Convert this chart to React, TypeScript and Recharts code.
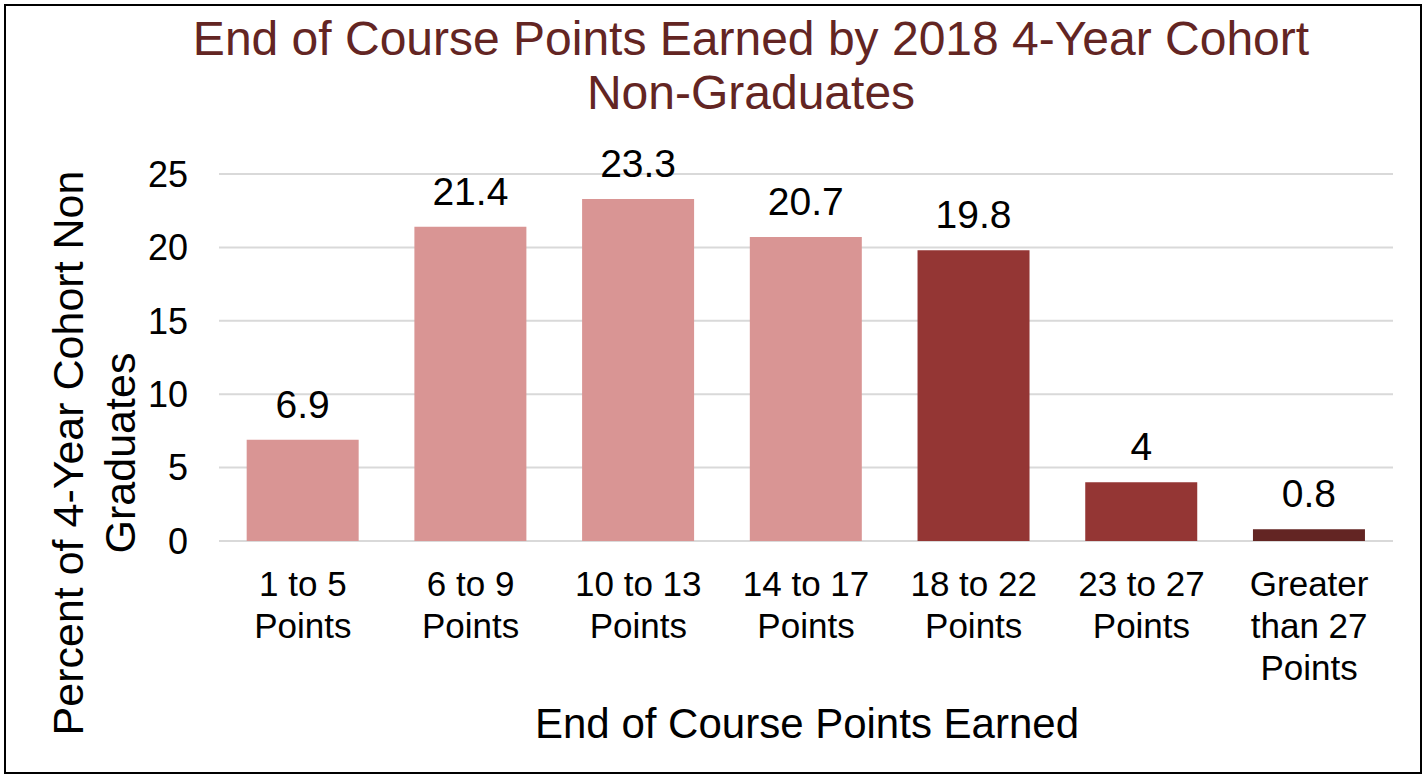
import { BarChart, Bar, XAxis, YAxis, CartesianGrid, Cell, LabelList, Label } from 'recharts';

const categories = [
  '1 to 5 Points',
  '6 to 9 Points',
  '10 to 13 Points',
  '14 to 17 Points',
  '18 to 22 Points',
  '23 to 27 Points',
  'Greater than 27 Points',
];

const tickLines = [
  ['1 to 5', 'Points'],
  ['6 to 9', 'Points'],
  ['10 to 13', 'Points'],
  ['14 to 17', 'Points'],
  ['18 to 22', 'Points'],
  ['23 to 27', 'Points'],
  ['Greater', 'than 27', 'Points'],
];

const percents = [6.9, 21.4, 23.3, 20.7, 19.8, 4, 0.8];

const barColors = ['#D99594', '#D99594', '#D99594', '#D99594', '#943634', '#943634', '#632523'];

const yTicks = [0, 5, 10, 15, 20, 25];

const titleLines = ['End of Course Points Earned by 2018 4-Year Cohort', 'Non-Graduates'];
const yLabelLines = ['Percent of 4-Year Cohort Non', 'Graduates'];
const xLabel = 'End of Course Points Earned';

const data = categories.map((name, i) => ({ name, value: percents[i] }));

const FONT = '"Liberation Sans", Arial, sans-serif';

function XTick({ x, y, index }: any) {
  const lines = tickLines[index] || [];
  return (
    <text x={x} y={y + 55} textAnchor="middle" fontSize={35} fill="#000" fontFamily={FONT}>
      {lines.map((l, i) => (
        <tspan key={i} x={x} dy={i === 0 ? 0 : 42}>
          {l}
        </tspan>
      ))}
    </text>
  );
}

function YLabel() {
  return (
    <g fontFamily={FONT} fontSize={43} fill="#000">
      <text x={68} y={453} textAnchor="middle" dominantBaseline="central" transform="rotate(-90, 68, 453)">
        {yLabelLines[0]}
      </text>
      <text x={120} y={453} textAnchor="middle" dominantBaseline="central" transform="rotate(-90, 120, 453)">
        {yLabelLines[1]}
      </text>
    </g>
  );
}

function XLabel() {
  return (
    <text x={807} y={738} textAnchor="middle" fontSize={42} fill="#000" fontFamily={FONT}>
      {xLabel}
    </text>
  );
}

export default function App() {
  return (
    <div style={{ position: 'absolute', left: 0, top: 0, width: 1426, height: 778, background: '#fff', fontFamily: FONT }}>
      <div
        style={{
          position: 'absolute',
          left: 4,
          top: 4,
          width: 1418,
          height: 770,
          border: '2px solid #000',
          boxSizing: 'border-box',
        }}
      />
      <div
        style={{
          position: 'absolute',
          left: 0,
          top: 12,
          width: 1502,
          textAlign: 'center',
          color: '#632523',
          fontSize: 48,
          lineHeight: '54px',
        }}
      >
        {titleLines.map((t) => (
          <div key={t}>{t}</div>
        ))}
      </div>
      <BarChart
        width={1426}
        height={778}
        data={data}
        margin={{ top: 174, right: 33, left: 0, bottom: 0 }}
        barCategoryGap="16.5%"
        style={{ position: 'absolute', left: 0, top: 0 }}
      >
        <CartesianGrid vertical={false} stroke="#d9d9d9" strokeWidth={2} />
        <XAxis
          dataKey="name"
          height={237}
          axisLine={false}
          tickLine={false}
          tickSize={0}
          tickMargin={0}
          interval={0}
          tick={<XTick />}
        >
          <Label content={<XLabel />} />
        </XAxis>
        <YAxis
          width={219}
          domain={[0, 25]}
          ticks={yTicks}
          axisLine={false}
          tickLine={false}
          tickSize={0}
          tickMargin={31}
          tick={{ fontSize: 36, fill: '#000', fontFamily: FONT }}
        >
          <Label content={<YLabel />} />
        </YAxis>
        <Bar dataKey="value" isAnimationActive={false}>
          {data.map((d, i) => (
            <Cell key={d.name} fill={barColors[i]} />
          ))}
          <LabelList dataKey="value" position="top" offset={22} fill="#000" fontSize={39} fontFamily={FONT} />
        </Bar>
      </BarChart>
    </div>
  );
}
